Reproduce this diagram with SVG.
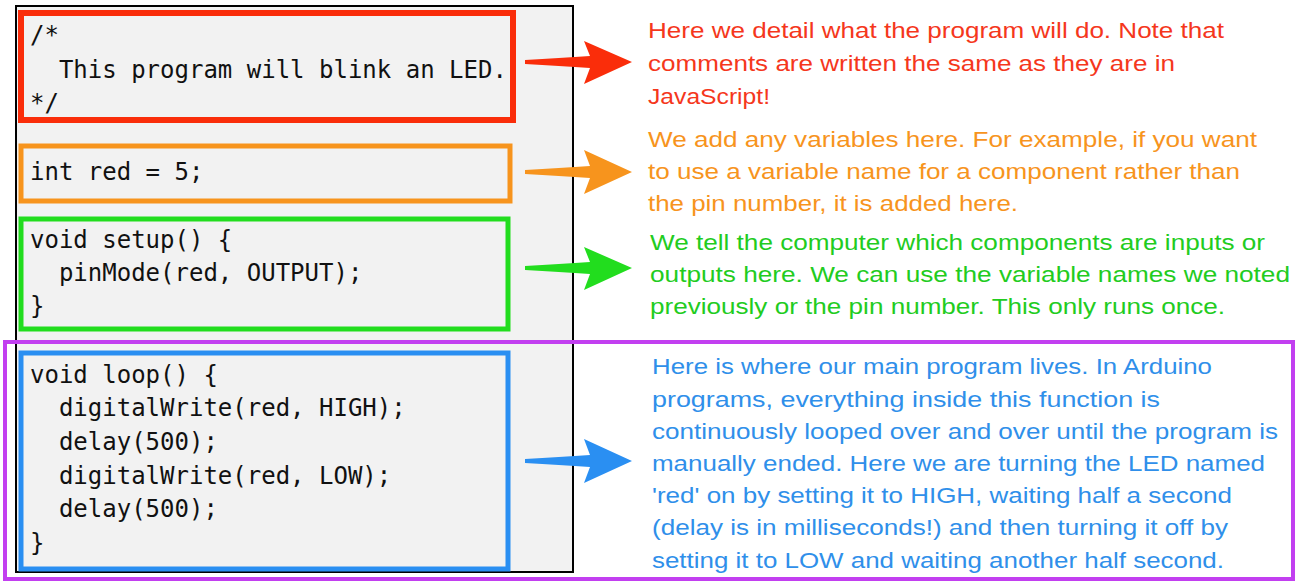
<svg xmlns="http://www.w3.org/2000/svg" width="1297" height="583" viewBox="0 0 1297 583">
<style>
.code{font-family:"DejaVu Sans Mono","Liberation Mono",monospace;font-size:24px;fill:#111}
.desc{font-family:"Liberation Sans",Arial,sans-serif;font-size:22px}
.box{fill:none}
</style>
<rect width="1297" height="583" fill="#ffffff"/>
<g id="panel">
<rect x="16" y="6" width="557" height="566" fill="#f2f2f2" stroke="#000" stroke-width="2"/>
</g>
<g id="comment-block">
<rect class="box" x="21" y="13" width="492" height="107" stroke="#fa2d0a" stroke-width="6"/>
<text class="code" x="30" y="43">/*</text>
<text class="code" x="30" y="78" xml:space="preserve">  This program will blink an LED.</text>
<text class="code" x="30" y="111">*/</text>
</g>
<g id="variables-block">
<rect class="box" x="21" y="146" width="489" height="55" stroke="#f7941d" stroke-width="5"/>
<text class="code" x="30" y="180">int red = 5;</text>
</g>
<g id="setup-block">
<rect class="box" x="21" y="219" width="487" height="110" stroke="#22dd1e" stroke-width="5"/>
<text class="code" x="30" y="248">void setup() {</text>
<text class="code" x="30" y="281" xml:space="preserve">  pinMode(red, OUTPUT);</text>
<text class="code" x="30" y="314">}</text>
</g>
<g id="loop-section">
<rect class="box" x="5" y="342" width="1288" height="237" stroke="#c23ff0" stroke-width="4"/>
</g>
<g id="loop-block">
<rect class="box" x="21" y="353" width="487" height="216" stroke="#2a8ff2" stroke-width="5"/>
<text class="code" x="30" y="383">void loop() {</text>
<text class="code" x="30" y="416" xml:space="preserve">  digitalWrite(red, HIGH);</text>
<text class="code" x="30" y="450" xml:space="preserve">  delay(500);</text>
<text class="code" x="30" y="484" xml:space="preserve">  digitalWrite(red, LOW);</text>
<text class="code" x="30" y="517" xml:space="preserve">  delay(500);</text>
<text class="code" x="30" y="551">}</text>
</g>
<g id="connectors">
<path d="M525,60 Q560,58 590,56 L584,41 L632,62 L584,84 L590,68 Q560,66 525,64 Z" fill="#fa2d0a"/>
<path d="M525,170 Q560,168 590,166 L584,150 L632,172 L584,194 L590,178 Q560,176 525,174 Z" fill="#f7941d"/>
<path d="M525,266 Q560,264 590,262 L584,247 L632,268 L584,290 L590,274 Q560,272 525,270 Z" fill="#22dd1e"/>
<path d="M525,459 Q560,457 590,455 L584,439 L632,461 L584,483 L590,467 Q560,465 525,463 Z" fill="#2a8ff2"/>
</g>
<g id="comment-note" class="desc" fill="#f5371c">
<text x="648" y="38" textLength="576" lengthAdjust="spacingAndGlyphs">Here we detail what the program will do. Note that</text>
<text x="648" y="71" textLength="527" lengthAdjust="spacingAndGlyphs">comments are written the same as they are in</text>
<text x="648" y="104" textLength="122" lengthAdjust="spacingAndGlyphs">JavaScript!</text>
</g>
<g id="variables-note" class="desc" fill="#f7941d">
<text x="648" y="147" textLength="609" lengthAdjust="spacingAndGlyphs">We add any variables here. For example, if you want</text>
<text x="648" y="179" textLength="592" lengthAdjust="spacingAndGlyphs">to use a variable name for a component rather than</text>
<text x="648" y="211" textLength="370" lengthAdjust="spacingAndGlyphs">the pin number, it is added here.</text>
</g>
<g id="setup-note" class="desc" fill="#22cc1e">
<text x="650" y="250" textLength="615" lengthAdjust="spacingAndGlyphs">We tell the computer which components are inputs or</text>
<text x="650" y="282" textLength="640" lengthAdjust="spacingAndGlyphs">outputs here. We can use the variable names we noted</text>
<text x="650" y="314" textLength="575" lengthAdjust="spacingAndGlyphs">previously or the pin number. This only runs once.</text>
</g>
<g id="loop-note" class="desc" fill="#2f8fea">
<text x="652" y="374" textLength="560" lengthAdjust="spacingAndGlyphs">Here is where our main program lives. In Arduino</text>
<text x="652" y="407" textLength="508" lengthAdjust="spacingAndGlyphs">programs, everything inside this function is</text>
<text x="652" y="439" textLength="626" lengthAdjust="spacingAndGlyphs">continuously looped over and over until the program is</text>
<text x="652" y="471" textLength="613" lengthAdjust="spacingAndGlyphs">manually ended. Here we are turning the LED named</text>
<text x="652" y="503" textLength="580" lengthAdjust="spacingAndGlyphs">'red' on by setting it to HIGH, waiting half a second</text>
<text x="652" y="535" textLength="576" lengthAdjust="spacingAndGlyphs">(delay is in milliseconds!) and then turning it off by</text>
<text x="652" y="568" textLength="572" lengthAdjust="spacingAndGlyphs">setting it to LOW and waiting another half second.</text>
</g>
</svg>
